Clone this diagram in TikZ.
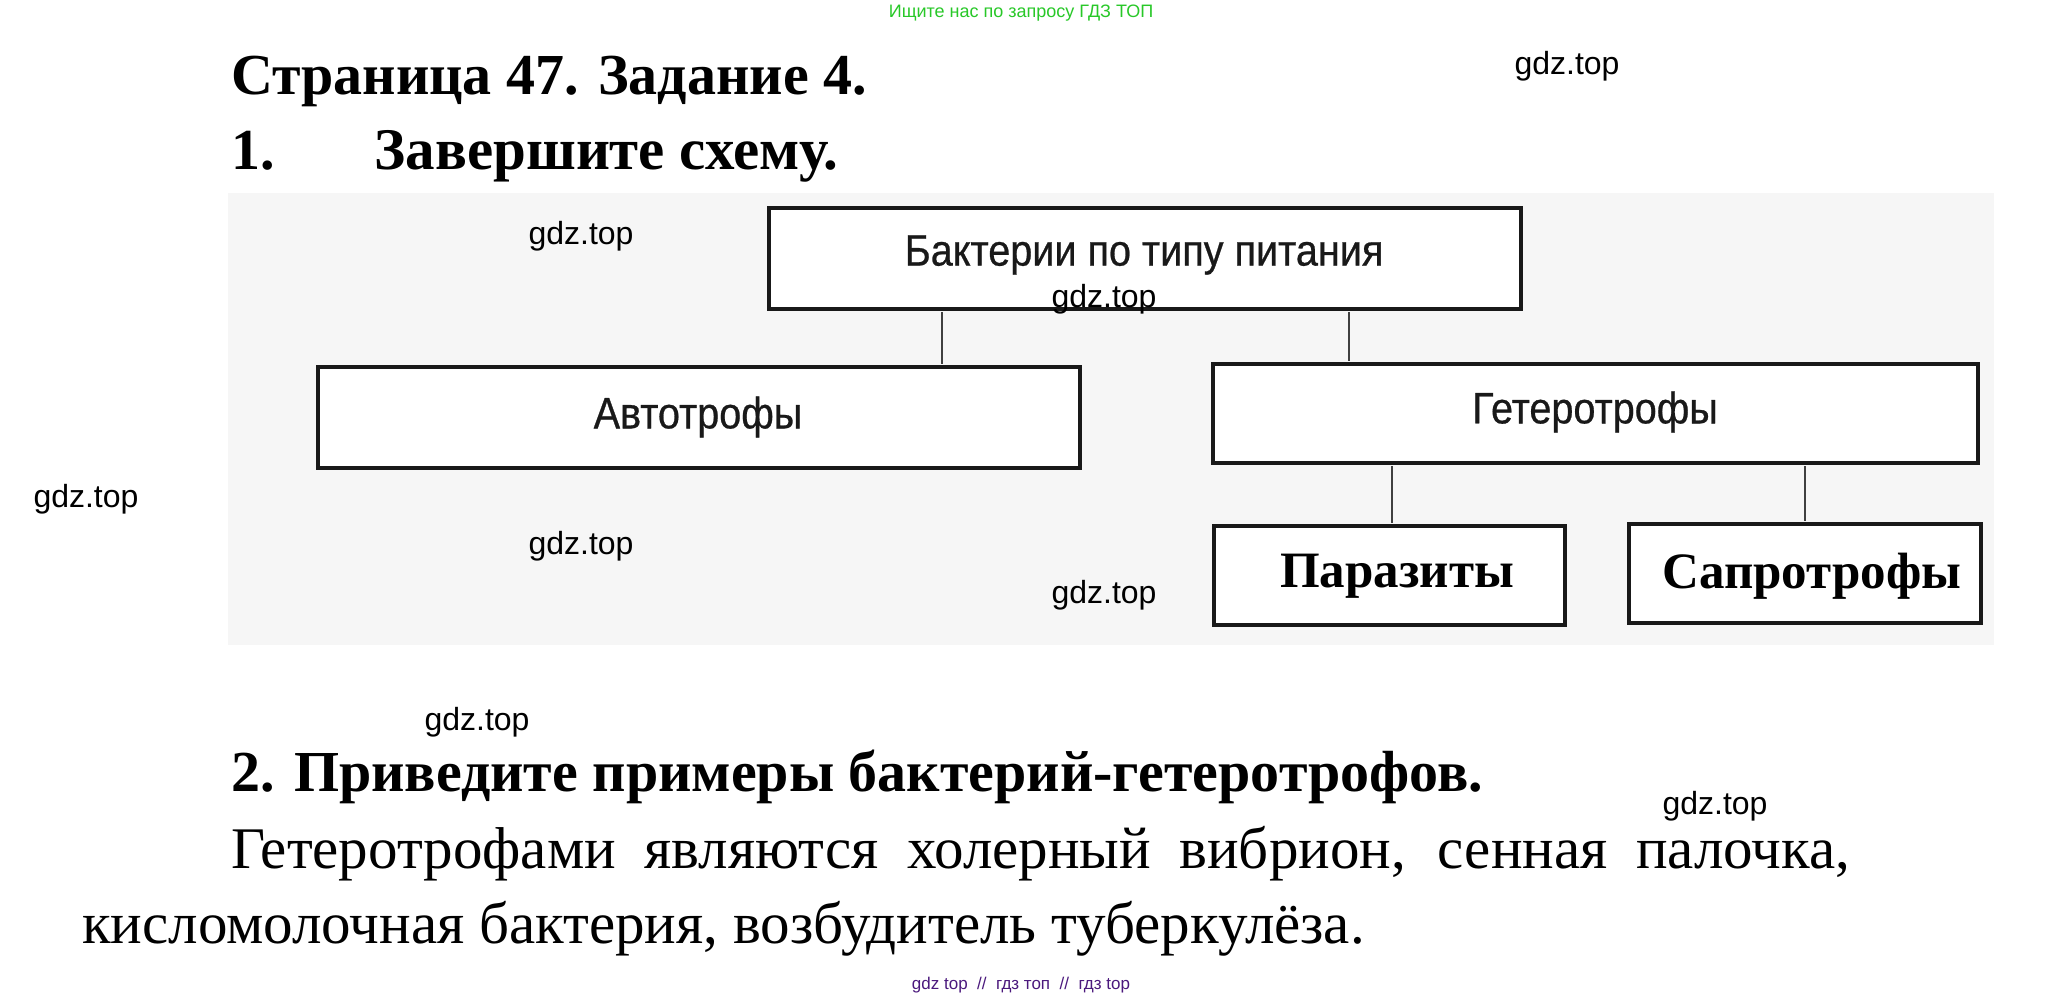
\documentclass[tikz,border=0pt]{standalone}
\usepackage{fontspec}
\setmainfont{Liberation Serif}
\newfontfamily\gdzfont{Liberation Sans}
\newfontfamily\boxfont[FakeStretch=0.9,FakeBold=0.6]{Liberation Sans}
\definecolor{greenmark}{RGB}{40,200,40}
\definecolor{purplemark}{RGB}{75,25,125}
\definecolor{scan}{RGB}{246,246,246}
\definecolor{boxline}{RGB}{25,25,25}
\begin{document}
\begin{tikzpicture}[x=1pt,y=-1pt,
  boxnode/.style={draw=boxline,line width=3.5pt,rectangle,inner sep=0pt,fill=white},
  boxlabel/.style={font=\boxfont\fontsize{44}{48}\selectfont,text=black!90},
  boldlabel/.style={font=\bfseries\fontsize{51}{56}\selectfont},
  conn/.style={draw=black!75,line width=2pt},
  wm/.style={font=\gdzfont\fontsize{32}{34}\selectfont,text=black},
  heading/.style={font=\bfseries\fontsize{58}{64}\selectfont,anchor=base west,inner sep=0pt},
  bodytext/.style={font=\fontsize{59}{66}\selectfont,anchor=base west,inner sep=0pt}]
\useasboundingbox (0,0) rectangle (2046,1001);
\fill[white] (0,0) rectangle (2046,1001);
% scanned area
\fill[scan] (228,193) rectangle (1994,645);

% header watermark
\node[font=\gdzfont\fontsize{18}{20}\selectfont,text=greenmark] (wtop) at (1021,13) {Ищите нас по запросу ГДЗ ТОП};

% headings
\node[heading] (title) at (231,94) {Страница 47. Задание 4.};
\node[heading] (task1) at (231,169) {1.\hspace{100pt}{\fontsize{59}{64}\selectfont Завершите схему.}};

% boxes
\node[boxnode,minimum width=752pt,minimum height=101pt] (top) at (1145,258.5) {};
\node[boxlabel] (toplabel) at (1144,255) {Бактерии по типу питания};
\node[boxnode,minimum width=762pt,minimum height=101pt] (auto) at (699,417.5) {};
\node[boxlabel] (autolabel) at (698,417) {Автотрофы};
\node[boxnode,minimum width=765pt,minimum height=99pt] (het) at (1595.5,413.5) {};
\node[boxlabel] (hetlabel) at (1595,412) {Гетеротрофы};
\node[boxnode,minimum width=351pt,minimum height=99pt] (par) at (1389.5,575.5) {};
\node[boldlabel] (parlabel) at (1397,576) {Паразиты};
\node[boxnode,minimum width=352pt,minimum height=99pt] (sap) at (1805,573.5) {};
\node[boldlabel] (saplabel) at (1812,576) {Сапротрофы};

% connectors
\coordinate (c1) at (942,0);
\coordinate (c2) at (1349,0);
\coordinate (c3) at (1392,0);
\coordinate (c4) at (1805,0);
\draw[conn] ([yshift=-1.5pt]top.south -| c1) -- ([yshift=1.5pt]auto.north -| c1);
\draw[conn] ([yshift=-1.5pt]top.south -| c2) -- ([yshift=1.5pt]het.north -| c2);
\draw[conn] ([yshift=-1.5pt]het.south -| c3) -- ([yshift=1.5pt]par.north -| c3);
\draw[conn] ([yshift=-1.5pt]het.south -| c4) -- ([yshift=1.5pt]sap.north -| c4);

% watermarks
\node[wm] (w1) at (1567,66) {gdz.top};
\node[wm] (w2) at (581,236) {gdz.top};
\node[wm] (w3) at (1104,299) {gdz.top};
\node[wm] (w4) at (86,499) {gdz.top};
\node[wm] (w5) at (581,546) {gdz.top};
\node[wm] (w6) at (1104,595) {gdz.top};
\node[wm] (w7) at (477,722) {gdz.top};
\node[wm] (w8) at (1715,806) {gdz.top};

% section 2
\node[heading] (task2) at (231,791) {2. Приведите примеры бактерий-гетеротрофов.};
\node[bodytext] (line1) at (231,868) {\makebox[1619pt][s]{Гетеротрофами являются холерный вибрион, сенная палочка,}};
\node[bodytext] (line2) at (82,943) {кисломолочная бактерия, возбудитель туберкулёза.};

% footer watermark
\node[font=\gdzfont\fontsize{17}{19}\selectfont,text=purplemark] (wbot) at (1021,985) {gdz top\ \ //\ \ гдз топ\ \ //\ \ гдз top};
\end{tikzpicture}
\end{document}
